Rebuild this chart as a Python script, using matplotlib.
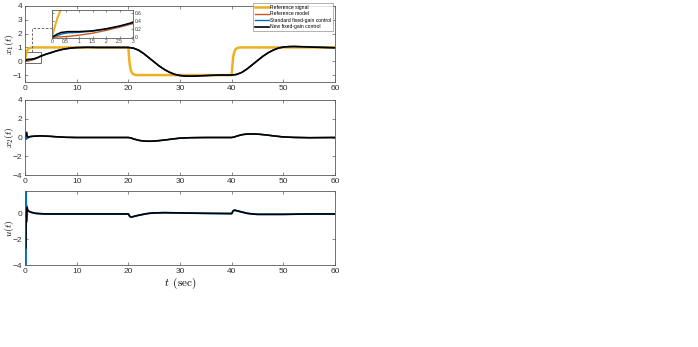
import matplotlib
matplotlib.use("Agg")
import matplotlib.pyplot as plt
from matplotlib.patches import Rectangle

plt.rcParams['mathtext.fontset'] = 'cm'
plt.rcParams['font.family'] = ['Liberation Sans', 'DejaVu Sans']

# ---------------- data ----------------
legend_labels = ["Reference signal", "Reference model",
                 "Standard fixed-gain control", "New fixed-gain control"]

# reference signal r(t)
t_ref = [0, 0.1, 0.2, 0.3, 0.45, 0.6, 0.8, 1.0, 1.3, 1.6,
         20, 20.1, 20.2, 20.3, 20.45, 20.6, 20.8, 21.0, 21.3, 21.6,
         40, 40.1, 40.2, 40.3, 40.45, 40.6, 40.8, 41.0, 41.3, 41.6, 60]
r_ref = [0, 0.25, 0.48, 0.65, 0.8, 0.88, 0.94, 0.97, 0.99, 1.0,
         1.0, 0.5, 0.04, -0.3, -0.6, -0.76, -0.88, -0.94, -0.98, -1.0,
         -1.0, -0.5, -0.04, 0.3, 0.6, 0.76, 0.88, 0.94, 0.98, 1.0, 1.0]

# x1(t)
t_x1 = [0, 0.2, 0.35, 0.6, 1, 1.5, 2, 2.5, 3, 4, 5, 6, 7, 8, 9, 10, 12, 14, 16, 18, 20,
        21, 22, 23, 24, 25, 26, 27, 28, 29, 30, 31, 32, 33, 34, 36, 38, 40,
        41, 42, 43, 44, 45, 46, 47, 48, 49, 50, 51, 52, 53, 54, 56, 58, 60]
x1_model = [0, 0.005, 0.01, 0.02, 0.05, 0.1, 0.17, 0.25, 0.34, 0.5, 0.62, 0.74, 0.84, 0.91, 0.96, 0.99, 1.01, 1.0, 1.0, 1.0, 1.0,
            0.95, 0.8, 0.55, 0.25, -0.05, -0.35, -0.6, -0.8, -0.95, -1.03, -1.07, -1.08, -1.07, -1.05, -1.02, -1.0, -1.0,
            -0.95, -0.8, -0.55, -0.25, 0.05, 0.35, 0.6, 0.8, 0.95, 1.03, 1.06, 1.07, 1.06, 1.05, 1.02, 1.0, 0.98]
x1_std = [0, 0.04, 0.08, 0.11, 0.12, 0.15, 0.2, 0.27, 0.36, 0.5, 0.62, 0.74, 0.84, 0.91, 0.96, 0.99, 1.01, 1.0, 1.0, 1.0, 1.0,
          0.95, 0.8, 0.55, 0.25, -0.05, -0.35, -0.6, -0.8, -0.95, -1.03, -1.07, -1.08, -1.07, -1.05, -1.02, -1.0, -1.0,
          -0.95, -0.8, -0.55, -0.25, 0.05, 0.35, 0.6, 0.8, 0.95, 1.03, 1.06, 1.07, 1.06, 1.05, 1.02, 1.0, 0.98]
x1_new = [0, 0.08, 0.12, 0.14, 0.14, 0.16, 0.21, 0.28, 0.37, 0.5, 0.62, 0.74, 0.84, 0.91, 0.96, 0.99, 1.01, 1.0, 1.0, 1.0, 1.0,
          0.95, 0.8, 0.55, 0.25, -0.05, -0.35, -0.6, -0.8, -0.95, -1.03, -1.07, -1.08, -1.07, -1.05, -1.02, -1.0, -1.0,
          -0.95, -0.8, -0.55, -0.25, 0.05, 0.35, 0.6, 0.8, 0.95, 1.03, 1.06, 1.07, 1.06, 1.05, 1.02, 1.0, 0.98]

# x2(t)
t_x2 = [0, 0.15, 0.3, 0.45, 0.6, 1, 2, 3, 4, 5, 6, 7, 8, 10, 15, 20,
        20.5, 21, 22, 23, 24, 25, 26, 27, 28, 29, 30, 32, 35, 40,
        40.5, 41, 42, 43, 44, 45, 46, 47, 48, 49, 50, 52, 55, 60]
x2_model = [0, 0.01, 0.03, 0.05, 0.07, 0.1, 0.15, 0.17, 0.15, 0.12, 0.08, 0.05, 0.02, 0.0, 0.0, 0.0,
            -0.05, -0.15, -0.3, -0.38, -0.4, -0.38, -0.33, -0.27, -0.2, -0.13, -0.07, -0.02, 0.0, 0.0,
            0.05, 0.15, 0.3, 0.37, 0.38, 0.36, 0.31, 0.25, 0.18, 0.12, 0.06, 0.01, -0.02, 0.0]
x2_std = [0, 0.2, -0.2, 0.1, 0.05, 0.1, 0.15, 0.17, 0.15, 0.12, 0.08, 0.05, 0.02, 0.0, 0.0, 0.0,
          -0.05, -0.15, -0.3, -0.38, -0.4, -0.38, -0.33, -0.27, -0.2, -0.13, -0.07, -0.02, 0.0, 0.0,
          0.05, 0.15, 0.3, 0.37, 0.38, 0.36, 0.31, 0.25, 0.18, 0.12, 0.06, 0.01, -0.02, 0.0]
x2_new = [0, 0.25, 0.55, 0.1, 0.0, 0.1, 0.15, 0.17, 0.15, 0.12, 0.08, 0.05, 0.02, 0.0, 0.0, 0.0,
          -0.05, -0.15, -0.3, -0.38, -0.4, -0.38, -0.33, -0.27, -0.2, -0.13, -0.07, -0.02, 0.0, 0.0,
          0.05, 0.15, 0.3, 0.37, 0.38, 0.36, 0.31, 0.25, 0.18, 0.12, 0.06, 0.01, -0.02, 0.0]

# u(t)
t_u = [0, 0.05, 0.1, 0.2, 0.3, 0.4, 0.5, 0.7, 1, 1.5, 2, 3, 4, 5, 10, 15, 20,
       20.3, 20.6, 21, 22, 23, 24, 25, 27, 30, 35, 40,
       40.3, 40.6, 41, 42, 43, 44, 45, 50, 55, 60]
u_std = [3.0, 3.0, -6.0, 2.0, -0.6, 0.6, 0.25, 0.2, 0.15, 0.1, 0.05, 0.02, 0.0, 0.0, 0.0, 0.0, 0.0,
         -0.2, -0.25, -0.2, -0.1, -0.02, 0.05, 0.08, 0.1, 0.08, 0.05, 0.03,
         0.25, 0.3, 0.25, 0.15, 0.05, 0.0, -0.03, -0.03, 0.0, 0.0]
u_new = [0, -1.5, -2.7, -1.0, -0.2, 0.5, 0.3, 0.25, 0.15, 0.1, 0.05, 0.02, 0.0, 0.0, 0.0, 0.0, 0.0,
         -0.2, -0.25, -0.2, -0.1, -0.02, 0.05, 0.08, 0.1, 0.08, 0.05, 0.03,
         0.25, 0.3, 0.25, 0.15, 0.05, 0.0, -0.03, -0.03, 0.0, 0.0]

x_ticks = [0, 10, 20, 30, 40, 50, 60]

# ---------------- styling ----------------
C_REF = '#EDB120'
C_MOD = '#D95319'
C_STD = '#0072BD'
C_NEW = '#000000'
EDGE = '#5a5a5a'

W, H = 698, 347
fig = plt.figure(figsize=(W / 100, H / 100), dpi=100)


def px_axes(x0, y0, x1, y1):
    return fig.add_axes([x0 / W, 1 - y1 / H, (x1 - x0) / W, (y1 - y0) / H])


def style(ax, fs=6):
    for s in ax.spines.values():
        s.set_color(EDGE)
        s.set_linewidth(0.6)
    ax.tick_params(direction='in', length=2.5, width=0.5, colors=EDGE,
                   labelcolor='#333333', labelsize=fs, top=True, right=True, pad=2)


ax1 = px_axes(25, 6, 335, 82)
ax2 = px_axes(25, 100, 335, 175)
ax3 = px_axes(25, 191, 335, 265)

# top panel
ax1.plot(t_ref, r_ref, color=C_REF, lw=1.8, label=legend_labels[0])
ax1.plot(t_x1, x1_model, color=C_MOD, lw=1.0, label=legend_labels[1])
ax1.plot(t_x1, x1_std, color=C_STD, lw=1.0, label=legend_labels[2])
ax1.plot(t_x1, x1_new, color=C_NEW, lw=1.2, label=legend_labels[3])
ax1.set_ylim(-1.5, 4)
ax1.set_yticks([-1, 0, 1, 2, 3, 4])
ax1.add_patch(Rectangle((0, -0.15), 3, 0.8, fill=False, ec='#555555', lw=0.6))
ax1.plot([1.4, 1.4, 5.3], [0.65, 2.4, 2.4], ls=(0, (3, 2)), color='#555555', lw=0.6)
leg = ax1.legend(loc='upper right', bbox_to_anchor=(333 / W, 1 - 3 / H),
                 bbox_transform=fig.transFigure, fontsize=3.6, frameon=True,
                 fancybox=False, borderpad=0.35, handlelength=2.8, labelspacing=0.3,
                 handletextpad=0.3, borderaxespad=0)
leg.get_frame().set_edgecolor('#777777')
leg.get_frame().set_linewidth(0.5)

# middle panel
ax2.plot(t_x2, x2_model, color=C_MOD, lw=1.0)
ax2.plot(t_x2, x2_std, color=C_STD, lw=1.0)
ax2.plot(t_x2, x2_new, color=C_NEW, lw=1.2)
ax2.set_ylim(-4, 4)
ax2.set_yticks([-4, -2, 0, 2, 4])

# bottom panel
ax3.plot(t_u, u_std, color=C_STD, lw=1.3)
ax3.plot(t_u, u_new, color=C_NEW, lw=1.2)
ax3.set_ylim(-4, 1.8)
ax3.set_yticks([-4, -2, 0])
ax3.set_xlabel(r'$t\ \, (\mathrm{sec})$', fontsize=8, labelpad=1)

for ax, lab in ((ax1, r'$x_1(t)$'), (ax2, r'$x_2(t)$'), (ax3, r'$u(t)$')):
    ax.set_xlim(0, 60)
    ax.set_xticks(x_ticks)
    style(ax)
    ax.set_ylabel(lab, fontsize=7, va='center')
    ax.yaxis.set_label_coords(-16 / 310, 0.5)

# inset
axi = px_axes(52, 10, 133, 38)
axi.plot(t_ref, r_ref, color=C_REF, lw=1.5)
axi.plot(t_x1, x1_model, color=C_MOD, lw=1.0)
axi.plot(t_x1, x1_std, color=C_STD, lw=1.0)
axi.plot(t_x1, x1_new, color=C_NEW, lw=1.1)
axi.set_xlim(0, 3)
axi.set_ylim(-0.02, 0.68)
axi.set_xticks([0, 0.5, 1, 1.5, 2, 2.5, 3])
axi.set_xticklabels(['0', '0.5', '1', '1.5', '2', '2.5', '3'])
axi.set_yticks([0, 0.2, 0.4, 0.6])
axi.set_yticklabels(['0', '0.2', '0.4', '0.6'])
style(axi, fs=3.5)
axi.tick_params(labelleft=False, labelright=True, length=1.5, pad=1)
axi.set_facecolor('white')

fig.savefig('out.png', dpi=100)
